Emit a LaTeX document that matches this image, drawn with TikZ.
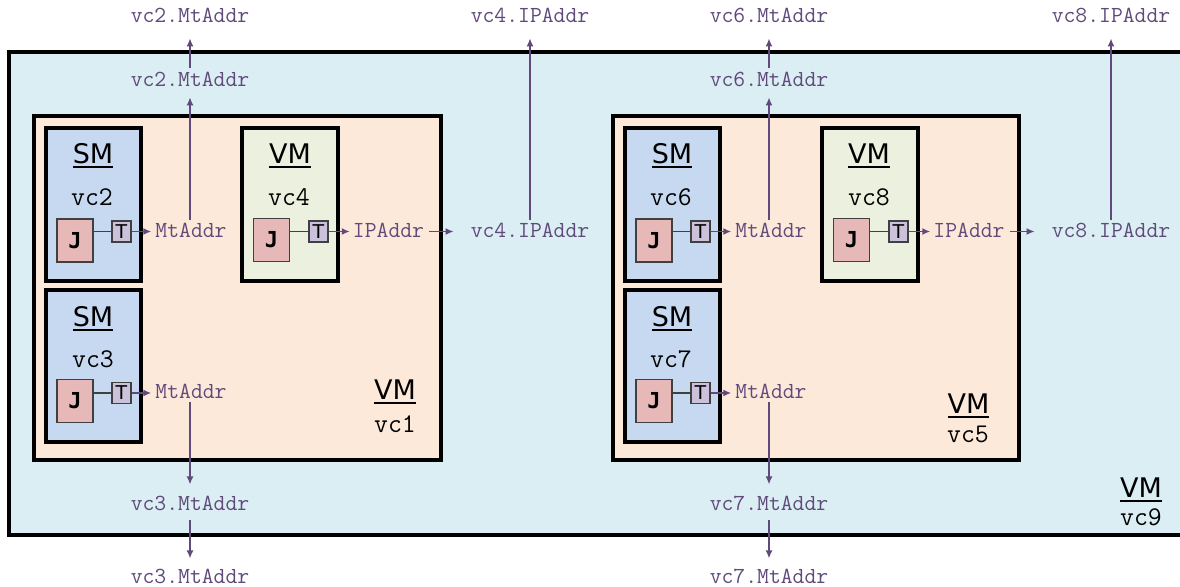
\documentclass[tikz,border=0pt]{standalone}
\usepackage{fontspec}
\usetikzlibrary{arrows.meta}
\newfontfamily\boxfont{DejaVu Sans}
\newfontfamily\jfont{DejaVu Sans Mono}
\definecolor{outerblue}{HTML}{DAEEF3}
\definecolor{vmpeach}{HTML}{FDE9D9}
\definecolor{smblue}{HTML}{C6D9F1}
\definecolor{vmgreen}{HTML}{EBF1DE}
\definecolor{jred}{HTML}{E6B9B8}
\definecolor{tlilac}{HTML}{CCC1DA}
\definecolor{addrpurple}{HTML}{604A7B}
\newcommand{\kindtext}[1]{\setbox0=\hbox{#1}\vtop{\copy0\kern3pt\hrule height 2pt width \wd0}}
\tikzset{
    container/.style={draw=black, line width=4pt, anchor=north west, inner sep=0pt, outer sep=0pt},
    jbox/.style={draw=black!75, line width=1.5pt, fill=jred, minimum width=36pt, minimum height=43pt, inner sep=0pt, font=\jfont\bfseries\fontsize{22}{24}\selectfont},
    tbox/.style={draw=black!75, line width=1.2pt, fill=tlilac, minimum width=19pt, minimum height=21pt, inner sep=0pt, font=\boxfont\fontsize{19}{21}\selectfont},
    kind/.style={anchor=base, inner sep=0pt, font=\boxfont\fontsize{27}{30}\selectfont},
    vcname/.style={anchor=base, inner sep=0pt, font=\ttfamily\fontsize{27}{30}\selectfont},
    addr/.style={anchor=base, inner sep=0pt, text=addrpurple, font=\ttfamily\fontsize{23}{26}\selectfont},
    flow/.style={draw=addrpurple, line width=1.5pt, -{Latex[length=8pt,width=7pt]}},
    wire/.style={draw=black!75, line width=1.5pt},
}
\begin{document}
\begin{tikzpicture}[x=1pt, y=-1pt]
    \useasboundingbox (0,0) rectangle (1180,586);
    \fill[white] (0,0) rectangle (1180,586);

    % outer VM
    \node[container, fill=outerblue, minimum width=1200pt, minimum height=483pt] (vc9) at (9,52) {};
    \node[kind] (vc9kind) at (1141,497) {\kindtext{VM}};
    \node[vcname] (vc9name) at (1141,525) {vc9};

    % left VM
    \node[container, fill=vmpeach, minimum width=406.5pt, minimum height=344pt] (vc1) at (34,116) {};
    \node[kind] (vc1kind) at (395,399) {\kindtext{VM}};
    \node[vcname] (vc1name) at (395,432) {vc1};

    \node[container, fill=smblue, minimum width=95pt, minimum height=153pt] (vc2) at (45.5,127.5) {};
    \node[kind] (vc2kind) at (93,163) {\kindtext{SM}};
    \node[vcname] (vc2name) at (92,205) {vc2};
    \node[jbox] (j2) at (75,240.5) {J};
    \node[tbox] (t2) at (121.5,231.5) {T};
    \draw[wire] (t2.west -| j2.east) -- (t2.west);

    \node[container, fill=smblue, minimum width=95pt, minimum height=152pt] (vc3) at (45.5,289.5) {};
    \node[kind] (vc3kind) at (93,326) {\kindtext{SM}};
    \node[vcname] (vc3name) at (93,367) {vc3};
    \node[jbox] (j3) at (75,401) {J};
    \node[tbox] (t3) at (121.5,393) {T};
    \draw[wire] (t3.west -| j3.east) -- (t3.west);

    \node[container, fill=vmgreen, minimum width=96pt, minimum height=152.5pt] (vc4) at (241.5,128) {};
    \node[kind] (vc4kind) at (290,163) {\kindtext{VM}};
    \node[vcname] (vc4name) at (289,205) {vc4};
    \node[jbox] (j4) at (271.5,240) {J};
    \node[tbox] (t4) at (318.5,231.5) {T};
    \draw[wire] (t4.west -| j4.east) -- (t4.west);

    % right VM
    \node[container, fill=vmpeach, minimum width=406pt, minimum height=344pt] (vc5) at (613,116) {};
    \node[kind] (vc5kind) at (968.5,413) {\kindtext{VM}};
    \node[vcname] (vc5name) at (968,442) {vc5};

    \node[container, fill=smblue, minimum width=95pt, minimum height=153pt] (vc6) at (624.5,127.5) {};
    \node[kind] (vc6kind) at (672,163) {\kindtext{SM}};
    \node[vcname] (vc6name) at (671,205) {vc6};
    \node[jbox] (j6) at (654,240.5) {J};
    \node[tbox] (t6) at (700.5,231.5) {T};
    \draw[wire] (t6.west -| j6.east) -- (t6.west);

    \node[container, fill=smblue, minimum width=95pt, minimum height=152pt] (vc7) at (624.5,289.5) {};
    \node[kind] (vc7kind) at (672,326) {\kindtext{SM}};
    \node[vcname] (vc7name) at (671,367) {vc7};
    \node[jbox] (j7) at (654,401) {J};
    \node[tbox] (t7) at (700.5,393) {T};
    \draw[wire] (t7.west -| j7.east) -- (t7.west);

    \node[container, fill=vmgreen, minimum width=96pt, minimum height=152.5pt] (vc8) at (821.5,128) {};
    \node[kind] (vc8kind) at (869,163) {\kindtext{VM}};
    \node[vcname] (vc8name) at (869,205) {vc8};
    \node[jbox] (j8) at (851.5,240) {J};
    \node[tbox] (t8) at (898.5,231.5) {T};
    \draw[wire] (t8.west -| j8.east) -- (t8.west);

    % addresses
    \node[addr] (m2) at (191,237) {MtAddr};
    \node[addr] (m2in) at (190,86) {vc2.MtAddr};
    \node[addr] (m2out) at (190,23) {vc2.MtAddr};
    \node[addr] (m3) at (191,398) {MtAddr};
    \node[addr] (m3in) at (190,510) {vc3.MtAddr};
    \node[addr] (m3out) at (190,583) {vc3.MtAddr};
    \node[addr] (a4) at (388.5,237) {IPAddr};
    \node[addr] (a4in) at (530,237) {vc4.IPAddr};
    \node[addr] (a4out) at (530,23) {vc4.IPAddr};

    \node[addr] (m6) at (771,237) {MtAddr};
    \node[addr] (m6in) at (769,86) {vc6.MtAddr};
    \node[addr] (m6out) at (769,23) {vc6.MtAddr};
    \node[addr] (m7) at (771,398) {MtAddr};
    \node[addr] (m7in) at (769,510) {vc7.MtAddr};
    \node[addr] (m7out) at (769,583) {vc7.MtAddr};
    \node[addr] (a8) at (969,237) {IPAddr};
    \node[addr] (a8in) at (1111,237) {vc8.IPAddr};
    \node[addr] (a8out) at (1111,23) {vc8.IPAddr};

    \draw[flow, shorten >=4pt] (t2.east) -- (t2.east -| m2.west);
    \draw[flow, shorten <=2pt, shorten >=11pt] (m2.north -| m2in.south) -- (m2in.south);
    \draw[flow, shorten <=3pt, shorten >=15pt] (m2in.north) -- (m2out.south);
    \draw[flow, shorten >=4pt] (t3.east) -- (t3.east -| m3.west);
    \draw[flow, shorten <=4pt, shorten >=11pt] (m3.south -| m3in.north) -- (m3in.north);
    \draw[flow, shorten <=10pt, shorten >=10pt] (m3in.south) -- (m3out.north);
    \draw[flow, shorten >=3pt] (t4.east) -- (t4.east -| a4.west);
    \draw[flow, shorten <=5pt, shorten >=17pt] (a4.east |- t4.east) -- (t4.east -| a4in.west);
    \draw[flow, shorten <=2pt, shorten >=15pt] (a4in.north) -- (a4out.south);

    \draw[flow, shorten >=4pt] (t6.east) -- (t6.east -| m6.west);
    \draw[flow, shorten <=2pt, shorten >=11pt] (m6.north -| m6in.south) -- (m6in.south);
    \draw[flow, shorten <=3pt, shorten >=15pt] (m6in.north) -- (m6out.south);
    \draw[flow, shorten >=4pt] (t7.east) -- (t7.east -| m7.west);
    \draw[flow, shorten <=4pt, shorten >=11pt] (m7.south -| m7in.north) -- (m7in.north);
    \draw[flow, shorten <=10pt, shorten >=10pt] (m7in.south) -- (m7out.north);
    \draw[flow, shorten >=3pt] (t8.east) -- (t8.east -| a8.west);
    \draw[flow, shorten <=5pt, shorten >=17pt] (a8.east |- t8.east) -- (t8.east -| a8in.west);
    \draw[flow, shorten <=2pt, shorten >=15pt] (a8in.north) -- (a8out.south);
\end{tikzpicture}
\end{document}
